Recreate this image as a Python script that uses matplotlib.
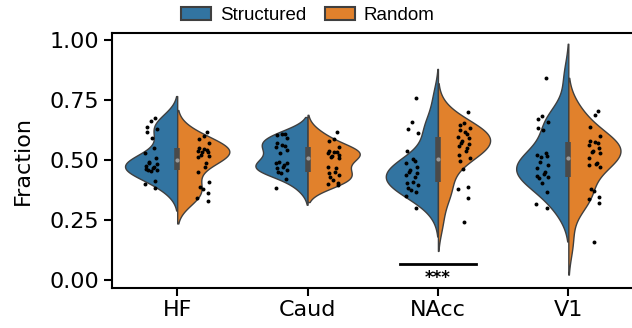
import numpy as np
import matplotlib.pyplot as plt
from matplotlib.patches import Patch

regions = ['HF', 'Caud', 'NAcc', 'V1']

# fraction values
hf_structured = [0.674, 0.662, 0.639, 0.628, 0.615, 0.590, 0.549, 0.528, 0.508, 0.493, 0.489,
                 0.483, 0.476, 0.472, 0.465, 0.462, 0.458, 0.458, 0.455, 0.413, 0.399, 0.382]
hf_random = [0.615, 0.601, 0.586, 0.569, 0.548, 0.545, 0.541, 0.538, 0.535, 0.532, 0.521,
             0.517, 0.511, 0.489, 0.472, 0.451, 0.410, 0.386, 0.378, 0.361, 0.340, 0.329]
caud_structured = [0.608, 0.607, 0.604, 0.590, 0.569, 0.562, 0.558, 0.555, 0.542, 0.528, 0.493,
                   0.489, 0.486, 0.479, 0.470, 0.465, 0.458, 0.451, 0.447, 0.420, 0.385]
caud_random = [0.618, 0.586, 0.580, 0.556, 0.538, 0.535, 0.532, 0.528, 0.521, 0.518, 0.514,
               0.510, 0.470, 0.465, 0.451, 0.444, 0.437, 0.430, 0.417, 0.403, 0.399, 0.395]
nacc_structured = [0.760, 0.657, 0.628, 0.614, 0.539, 0.504, 0.495, 0.486, 0.472, 0.458, 0.450,
                   0.444, 0.438, 0.430, 0.410, 0.403, 0.396, 0.385, 0.375, 0.368, 0.350, 0.301]
nacc_random = [0.701, 0.655, 0.645, 0.632, 0.625, 0.618, 0.607, 0.597, 0.590, 0.580, 0.569, 0.565,
               0.560, 0.549, 0.538, 0.520, 0.507, 0.496, 0.4625, 0.389, 0.380, 0.343, 0.240]
v1_structured = [0.843, 0.683, 0.669, 0.660, 0.632, 0.625, 0.528, 0.522, 0.517, 0.511, 0.493,
                 0.479, 0.465, 0.451, 0.440, 0.433, 0.430, 0.424, 0.403, 0.368, 0.315, 0.302]
v1_random = [0.705, 0.6875, 0.636, 0.600, 0.580, 0.575, 0.569, 0.5625, 0.549, 0.539, 0.535, 0.528,
             0.507, 0.489, 0.483, 0.480, 0.472, 0.378, 0.372, 0.345, 0.336, 0.319, 0.160]

structured = [hf_structured, caud_structured, nacc_structured, v1_structured]
random_ = [hf_random, caud_random, nacc_random, v1_random]

blue = '#3274a1'
orange = '#e1812c'
gray = '#3f3f3f'


def kde(vals):
    vals = np.asarray(vals)
    bw = np.std(vals, ddof=1) * len(vals) ** (-1 / 5)
    grid = np.linspace(vals.min() - 2 * bw, vals.max() + 2 * bw, 300)
    dens = np.exp(-0.5 * ((grid[:, None] - vals[None, :]) / bw) ** 2).sum(1)
    return grid, dens / dens.max()


def jitter(n, width=0.045):
    k = np.arange(n)
    return width * np.sin(k * 2.399 + 0.7)


fig = plt.figure(figsize=(6.32, 3.28), dpi=100)
ax = fig.add_axes([112 / 632, 1 - 287.7 / 328, 521.5 / 632, 254.4 / 328])

for i, name in enumerate(regions):
    for vals, col, side in ((structured[i], blue, -1), (random_[i], orange, 1)):
        grid, dens = kde(vals)
        ax.fill_betweenx(grid, i, i + side * 0.4 * dens, facecolor=col,
                         edgecolor=gray, linewidth=1, zorder=1)
        ax.scatter(i + side * 0.2 + jitter(len(vals)), vals, s=8, color='black',
                   linewidths=0, zorder=3)
    both = np.concatenate([structured[i], random_[i]])
    q1, med, q3 = np.percentile(both, [25, 50, 75])
    ax.plot([i, i], [q1, q3], color='#4a4a4a', lw=4, solid_capstyle='butt', zorder=2)
    ax.scatter([i], [med], s=9, color='#9a9a9a', linewidths=0, zorder=2.5)

# significance bar under NAcc
ax.plot([2 - 0.29, 2 + 0.29], [0.068, 0.068], color='black', lw=2)
ax.text(2, 0.047, '***', ha='center', va='top', fontsize=12, fontweight='bold')

ax.set_xlim(-0.5, 3.5)
ax.set_ylim(-0.032, 1.028)
ax.set_xticks(range(len(regions)))
ax.set_xticklabels(regions)
ax.set_yticks([0, 0.25, 0.5, 0.75, 1.0])
ax.set_ylabel('Fraction', fontsize=16, labelpad=12)
ax.tick_params(labelsize=16, length=5.5, width=1.5)
for s in ax.spines.values():
    s.set_linewidth(1.5)

handles = [Patch(facecolor=blue, edgecolor=gray, lw=1.5, label='Structured'),
           Patch(facecolor=orange, edgecolor=gray, lw=1.5, label='Random')]
fig.legend(handles=handles, loc='center', bbox_to_anchor=(0.487, 0.953), ncol=2,
           frameon=False, prop={'family': 'Liberation Sans', 'size': 13.5},
           handlelength=1.6, handleheight=0.69, handletextpad=0.47, columnspacing=1.0,
           borderpad=0, borderaxespad=0)

fig.savefig('out.png', dpi=100)
